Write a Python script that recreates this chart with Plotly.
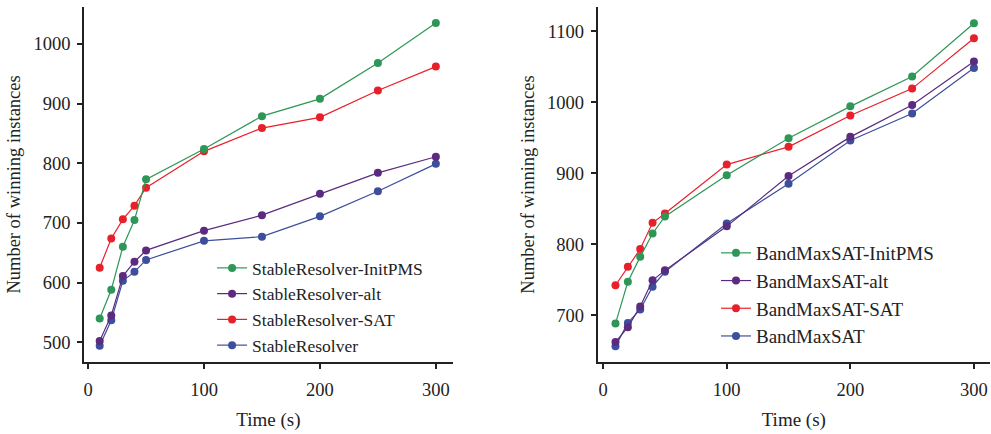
import plotly.graph_objects as go

time_s = [10, 20, 30, 40, 50, 100, 150, 200, 250, 300]

# Left panel: StableResolver variants
sr_initpms = [540, 588, 660, 705, 773, 824, 879, 908, 968, 1035]
sr_alt = [502, 545, 611, 635, 654, 687, 713, 749, 784, 811]
sr_sat = [625, 674, 706, 729, 759, 820, 859, 877, 922, 962]
sr_base = [494, 537, 603, 618, 638, 670, 677, 711, 753, 799]

# Right panel: BandMaxSAT variants
bm_initpms = [688, 747, 782, 815, 839, 897, 949, 994, 1036, 1111]
bm_alt = [662, 683, 712, 749, 763, 825, 896, 951, 996, 1057]
bm_sat = [742, 768, 793, 830, 843, 912, 937, 981, 1019, 1090]
bm_base = [656, 689, 708, 740, 761, 829, 885, 946, 984, 1048]

left_names = ["StableResolver-InitPMS", "StableResolver-alt", "StableResolver-SAT", "StableResolver"]
right_names = ["BandMaxSAT-InitPMS", "BandMaxSAT-alt", "BandMaxSAT-SAT", "BandMaxSAT"]

colors = ["#2e9757", "#5c2b80", "#e8202a", "#3d4f9c"]

FONT = "Liberation Serif, Times New Roman, serif"

fig = go.Figure()

left_series = [sr_initpms, sr_alt, sr_sat, sr_base]
right_series = [bm_initpms, bm_alt, bm_sat, bm_base]

# add in reverse so first series is drawn on top
for i in reversed(range(4)):
    fig.add_trace(go.Scatter(
        x=time_s, y=left_series[i], name=left_names[i], mode="lines+markers",
        line=dict(color=colors[i], width=1.2),
        marker=dict(color=colors[i], size=8),
        xaxis="x", yaxis="y", legend="legend",
    ))
for i in reversed(range(4)):
    fig.add_trace(go.Scatter(
        x=time_s, y=right_series[i], name=right_names[i], mode="lines+markers",
        line=dict(color=colors[i], width=1.2),
        marker=dict(color=colors[i], size=8),
        xaxis="x2", yaxis="y2", legend="legend2",
    ))

axis_common = dict(
    showline=True, linecolor="#222", linewidth=1.5,
    ticks="outside", ticklen=5, tickwidth=1.5, tickcolor="#222",
    showgrid=False, zeroline=False,
    tickfont=dict(family=FONT, size=18.5, color="#222"),
)

xt = dict(text="Time (s)", font=dict(family=FONT, size=19), standoff=14)
yt = dict(text="Number of winning instances", font=dict(family=FONT, size=18.5), standoff=8)

fig.update_layout(
    width=991, height=434,
    margin=dict(l=0, r=0, t=0, b=0),
    paper_bgcolor="white", plot_bgcolor="white",
    font=dict(family=FONT, color="#222"),
    showlegend=True,
    xaxis=dict(domain=[0.0848, 0.457], range=[-3.5, 314.7], tickvals=[0, 100, 200, 300],
               anchor="y", title=xt, ticklabelstandoff=5, **axis_common),
    yaxis=dict(domain=[0.166, 0.984], range=[467, 1062], tickvals=[500, 600, 700, 800, 900, 1000],
               anchor="x", title=yt, ticklabelstandoff=3, **axis_common),
    xaxis2=dict(domain=[0.603, 0.999], range=[-4.5, 313], tickvals=[0, 100, 200, 300],
                anchor="y2", title=xt, ticklabelstandoff=5, **axis_common),
    yaxis2=dict(domain=[0.166, 0.984], range=[634, 1134], tickvals=[700, 800, 900, 1000, 1100],
                anchor="x2", title=yt, ticklabelstandoff=3, **axis_common),
    legend=dict(x=0.214, y=1 - 250 / 434, xanchor="left", yanchor="top",
                traceorder="reversed", bgcolor="rgba(0,0,0,0)",
                font=dict(family=FONT, size=17.5, color="#222")),
    legend2=dict(x=0.7225, y=1 - 234 / 434, xanchor="left", yanchor="top",
                 traceorder="reversed", bgcolor="rgba(0,0,0,0)",
                 font=dict(family=FONT, size=19, color="#222")),
)

fig.write_html("out.html",
               config={"displayModeBar": False},
               post_script="document.body.style.margin='0';document.body.style.padding='0';")
